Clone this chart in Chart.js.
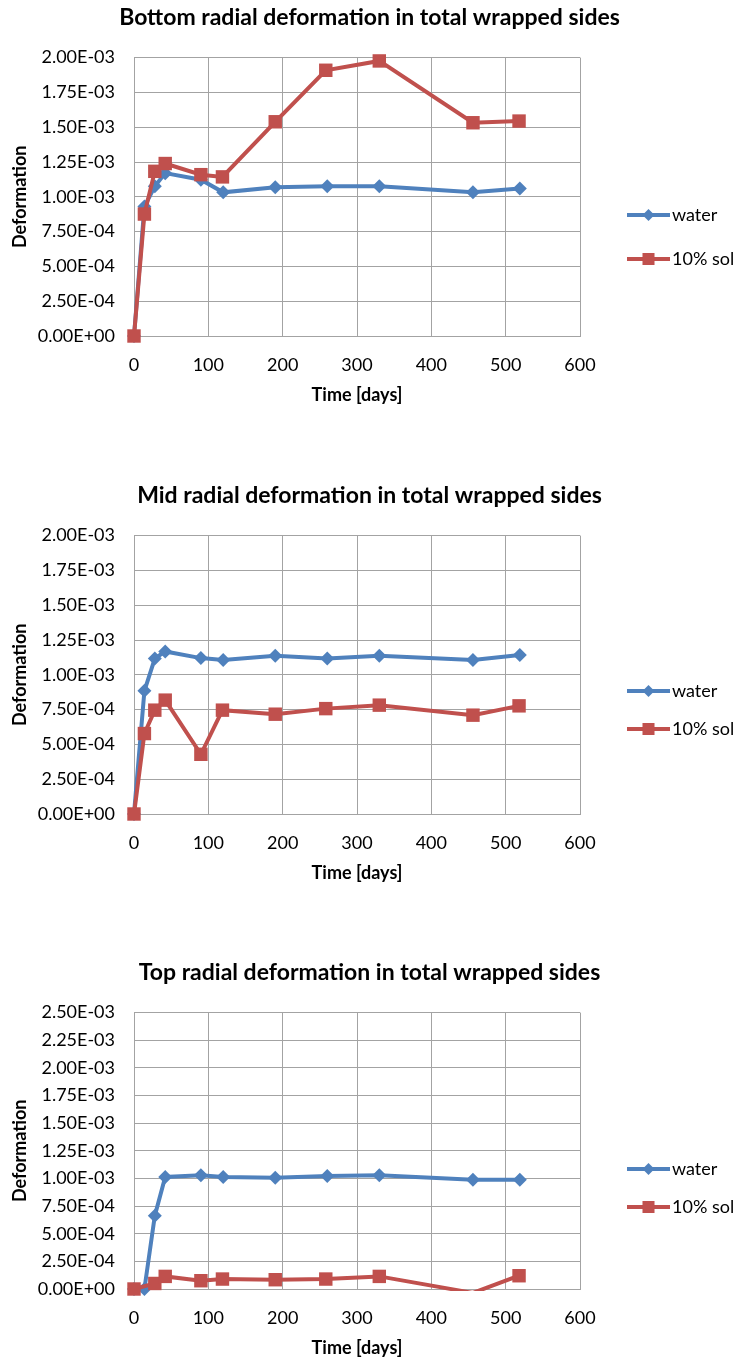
<!DOCTYPE html>
<html>
<head>
<meta charset="utf-8">
<script src="https://cdn.jsdelivr.net/npm/chart.js@4.4.1/dist/chart.umd.min.js"></script>
<style>
  html, body { margin: 0; padding: 0; background: #fff; width: 739px; height: 1364px; overflow: hidden; }
  .panel { position: absolute; left: 0; }
</style>
</head>
<body>
<div class="panel" style="top:0px"><canvas id="chartBottom" width="739" height="411"></canvas></div>
<div class="panel" style="top:478px"><canvas id="chartMid" width="739" height="411"></canvas></div>
<div class="panel" style="top:955px"><canvas id="chartTop" width="739" height="409"></canvas></div>
<script>
// Measurement days for each specimen series
const waterDays = [0, 14, 28, 42, 90, 120, 190, 260, 330, 456, 519];
const solDays   = [0, 14, 28, 42, 90, 119, 190, 258, 330, 456, 518];

// Bottom section radial deformation
const bottomWater = [0, 0.00093, 0.001075, 0.00117, 0.001123, 0.001032, 0.001069, 0.001075, 0.001075, 0.001032, 0.001059];
const bottomSol   = [0, 0.000876, 0.001183, 0.001239, 0.001159, 0.001143, 0.001539, 0.001909, 0.001976, 0.001532, 0.001544];

// Mid section radial deformation
const midWater = [0, 0.000885, 0.001117, 0.001168, 0.00112, 0.001106, 0.001137, 0.001117, 0.001137, 0.001106, 0.001142];
const midSol   = [0, 0.000578, 0.000746, 0.000818, 0.000429, 0.000746, 0.000717, 0.000757, 0.000782, 0.00071, 0.000777];

// Top section radial deformation (no 14-day reading for the solution specimen)
const topWater = [0, 0, 0.000663, 0.001013, 0.001028, 0.001013, 0.001007, 0.001022, 0.001028, 0.000989, 0.000989];
const topSol   = [0, null, 0.00005, 0.000114, 0.000075, 0.00009, 0.000084, 0.00009, 0.000114, -0.000035, 0.00012];

// Axis ticks
const xTicks = [0, 100, 200, 300, 400, 500, 600];
const yTicksBottom = [0, 0.00025, 0.0005, 0.00075, 0.001, 0.00125, 0.0015, 0.00175, 0.002];
const yTicksMid    = [0, 0.00025, 0.0005, 0.00075, 0.001, 0.00125, 0.0015, 0.00175, 0.002];
const yTicksTop    = [0, 0.00025, 0.0005, 0.00075, 0.001, 0.00125, 0.0015, 0.00175, 0.002, 0.00225, 0.0025];

const seriesNames = ['water', '10% sol'];
const titles = [
  'Bottom radial deformation in total wrapped sides',
  'Mid radial deformation in total wrapped sides',
  'Top radial deformation in total wrapped sides'
];

const BLUE = '#4F81BD';
const RED = '#C0504D';
const GRID = '#a3a3a3';
const FONT = 'Lato';

// Excel-style scientific label: 1.25E-03, 0.00E+00
function sciLabel(v) {
  if (Math.abs(v) < 1e-12) return '0.00E+00';
  const [m, e] = v.toExponential(2).split('e');
  const sign = e[0] === '-' ? '-' : '+';
  const digits = e.replace(/[+-]/, '').padStart(2, '0');
  return m + 'E' + sign + digits;
}

function points(days, vals) {
  return days.map((d, i) => ({ x: d, y: vals[i] }));
}

// hide markers that fall below the plotted range
function markerRadius(r) {
  return ctx => {
    const v = ctx.raw ? ctx.raw.y : null;
    return (v === null || v === undefined || v < 0) ? 0 : r;
  };
}

// Each series is a clipped polyline plus an unclipped set of markers
function series(name, days, vals, color, style, radius, legendRadius, order) {
  const data = points(days, vals);
  return [
    {
      label: name,
      data,
      borderColor: color,
      backgroundColor: color,
      borderWidth: 4,
      pointRadius: 0,
      tension: 0,
      spanGaps: true,
      clip: { left: 20, top: 20, right: 20, bottom: 2 },
      legendStyle: style,
      legendRadius,
      order: order * 2 + 1
    },
    {
      label: name,
      data,
      showLine: false,
      backgroundColor: color,
      borderColor: color,
      pointStyle: style,
      pointRadius: markerRadius(radius),
      pointBorderWidth: 0,
      clip: false,
      order: order * 2
    }
  ];
}

// Legend drawn to the right of the plot: line segment, marker, label
const sideLegend = {
  id: 'sideLegend',
  afterDraw(chart, args, opts) {
    const ctx = chart.ctx;
    chart.data.datasets.filter(ds => ds.legendStyle).forEach((ds, i) => {
      const y = opts.rows[i];
      ctx.save();
      ctx.strokeStyle = ds.borderColor;
      ctx.lineWidth = ds.borderWidth;
      ctx.beginPath();
      ctx.moveTo(opts.x0, y);
      ctx.lineTo(opts.x1, y);
      ctx.stroke();
      ctx.fillStyle = ds.backgroundColor;
      Chart.helpers.drawPoint(ctx, {
        pointStyle: ds.legendStyle,
        radius: ds.legendRadius,
        rotation: 0,
        borderWidth: 0
      }, (opts.x0 + opts.x1) / 2, y);
      ctx.fillStyle = '#000';
      ctx.font = '18px ' + FONT;
      ctx.textBaseline = 'middle';
      ctx.textAlign = 'left';
      ctx.fillText(ds.label, opts.textX, y);
      ctx.restore();
    });
  }
};

function makeChart(id, title, water, sol, yTicks, legendRows) {
  const yMax = yTicks[yTicks.length - 1];
  return new Chart(document.getElementById(id), {
    type: 'line',
    data: {
      datasets: [
        ...series(seriesNames[0], waterDays, water, BLUE, 'rectRot', 7, 6, 1),
        ...series(seriesNames[1], solDays, sol, RED, 'rect', 9.5, 8.5, 0)
      ]
    },
    options: {
      responsive: false,
      animation: false,
      devicePixelRatio: 1,
      layout: { padding: 0 },
      plugins: {
        legend: { display: false },
        tooltip: { enabled: false },
        title: {
          display: true,
          text: title,
          color: '#000',
          font: { family: FONT, size: 23, weight: 'bold' },
          padding: { top: 4, bottom: 26 }
        },
        sideLegend: { x0: 627, x1: 670, textX: 672, rows: legendRows }
      },
      scales: {
        x: {
          type: 'linear',
          min: xTicks[0],
          max: xTicks[xTicks.length - 1],
          afterBuildTicks: axis => { axis.ticks = xTicks.map(v => ({ value: v })); },
          afterFit: axis => { axis.height = 75; },
          grid: { color: GRID, lineWidth: 1, drawTicks: false },
          border: { color: GRID, width: 1 },
          ticks: { color: '#000', padding: 18, font: { family: FONT, size: 18 } },
          title: {
            display: true,
            text: 'Time [days]',
            color: '#000',
            font: { family: FONT, size: 18, weight: 'bold' },
            padding: { top: 0, bottom: 5 }
          }
        },
        y: {
          type: 'linear',
          min: yTicks[0],
          max: yMax,
          afterBuildTicks: axis => { axis.ticks = yTicks.map(v => ({ value: v })); },
          afterFit: axis => { axis.width = 134; },
          grid: { color: GRID, lineWidth: 1, drawTicks: false },
          border: { color: GRID, width: 1 },
          ticks: {
            color: '#000',
            padding: 19,
            font: { family: FONT, size: 18 },
            callback: v => sciLabel(v)
          },
          title: {
            display: true,
            text: 'Deformation',
            color: '#000',
            font: { family: FONT, size: 18, weight: 'bold' },
            padding: { top: 9, bottom: 0 }
          }
        },
        // empty band on the right that holds the legend
        side: {
          type: 'linear',
          axis: 'y',
          position: 'right',
          afterFit: axis => { axis.width = 159; },
          grid: { display: false },
          border: { display: false },
          ticks: { display: false }
        }
      }
    },
    plugins: [sideLegend]
  });
}

makeChart('chartBottom', titles[0], bottomWater, bottomSol, yTicksBottom, [215, 259]);
makeChart('chartMid', titles[1], midWater, midSol, yTicksMid, [213, 251]);
makeChart('chartTop', titles[2], topWater, topSol, yTicksTop, [214, 252]);
</script>
</body>
</html>
